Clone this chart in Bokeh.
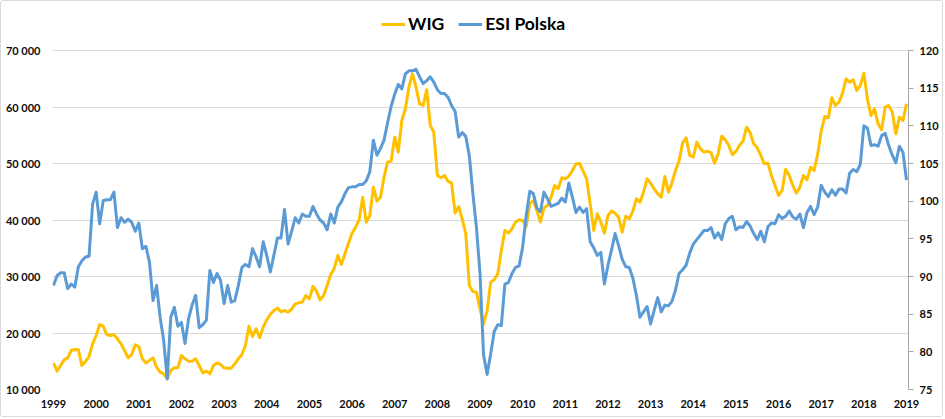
from bokeh.plotting import figure
from bokeh.models import Range1d, LinearAxis, FixedTicker, Legend, LegendItem
from bokeh.embed import file_html
from bokeh.resources import INLINE

# ---- data (monthly, Jan 1999 .. Jan 2019) ----
year_labels = [str(y) for y in range(1999, 2020)]

wig_values = [
    14660, 13250, 14250, 15250, 15600, 16900, 17080, 17020, 14250, 14960, 15840, 18080,  # 1999
    19560, 21500, 21200, 19680, 19560, 19680, 18970, 18080, 16900, 15600, 16200, 17900,  # 2000
    17610, 15430, 14660, 15130, 15600, 13950, 13070, 12770, 11890, 13360, 13840, 13840,  # 2001
    16020, 15430, 15020, 15020, 15430, 14250, 12950, 13250, 12770, 14250, 14720, 14430,  # 2002
    13840, 13780, 13780, 14540, 15430, 16200, 17790, 21210, 19380, 20740, 19150, 21030,  # 2003
    22300, 23280, 23980, 24400, 23750, 23980, 23690, 24220, 25160, 25340, 25460, 26640,  # 2004
    26050, 28230, 27410, 25870, 26640, 28410, 30360, 31420, 33720, 32130, 34010, 35900,  # 2005
    37670, 38730, 40030, 44040, 39620, 40800, 45810, 43330, 44040, 47580, 50240, 50420,  # 2006
    54660, 52010, 57610, 59680, 63510, 65870, 63510, 60560, 60270, 63040, 56730, 55550,  # 2007
    47880, 47470, 47880, 46870, 46520, 41210, 42390, 40210, 37560, 28410, 27350, 27230,  # 2008
    24280, 21630, 23980, 28990, 29410, 30470, 34600, 38140, 37670, 38440, 39620, 40030,  # 2009
    39910, 38850, 42860, 43450, 41680, 39620, 42160, 42570, 44040, 46110, 45520, 47470,  # 2010
    47290, 47760, 48760, 49940, 50000, 48650, 47290, 42860, 38140, 41090, 39620, 37670,  # 2011
    40800, 41570, 41210, 40500, 37850, 40680, 40210, 41570, 43750, 43160, 44930, 47290,  # 2012
    46520, 45520, 44630, 44040, 47700, 44930, 46520, 48760, 50420, 53600, 54550, 51420,  # 2013
    51120, 53780, 52600, 52000, 52200, 51900, 50060, 51700, 54840, 54200, 53190, 51540,  # 2014
    52130, 53190, 53960, 56430, 55490, 53480, 52780, 51420, 49940, 50060, 47880, 46110,  # 2015
    44340, 45220, 49000, 47880, 46110, 44750, 45810, 47880, 47110, 49350, 48760, 51600,  # 2016
    55730, 58320, 58090, 61630, 60270, 60860, 62450, 64990, 64400, 64810, 62920, 63810,  # 2017
    66000, 61450, 58500, 59680, 57020, 55960, 59970, 60270, 59090, 55250, 58200, 57610,  # 2018
    60570,                                                                                # 2019
]

esi_values = [
    88.8, 90.1, 90.5, 90.5, 88.4, 89.0, 88.6, 91.3, 92.1, 92.6, 92.7, 99.6,        # 1999
    101.2, 97.0, 100.1, 100.2, 100.2, 101.2, 96.5, 97.8, 97.2, 97.6, 97.2, 96.0,   # 2000
    97.1, 93.7, 94.0, 91.9, 86.8, 88.8, 84.6, 81.5, 76.4, 84.6, 85.9, 83.4,        # 2001
    83.9, 81.1, 84.4, 86.2, 87.5, 83.2, 83.6, 84.2, 90.8, 89.2, 90.4, 89.5,        # 2002
    86.4, 88.8, 86.6, 86.8, 88.8, 91.2, 91.6, 91.3, 93.7, 92.6, 91.3, 94.6,        # 2003
    92.8, 90.6, 92.8, 95.1, 95.1, 98.9, 94.3, 96.0, 97.8, 97.1, 98.3, 98.0,        # 2004
    98.0, 99.3, 98.3, 97.5, 97.1, 96.2, 98.3, 97.1, 99.2, 99.9, 101.0, 101.8,      # 2005
    101.9, 101.9, 102.2, 102.2, 102.7, 103.9, 108.1, 106.1, 107.0, 108.1, 110.4, 112.6,  # 2006
    114.2, 115.5, 114.9, 116.9, 117.3, 117.3, 117.5, 116.5, 115.6, 116.0, 116.5, 115.8,  # 2007
    114.8, 114.3, 114.3, 113.8, 112.7, 111.9, 108.5, 109.1, 108.6, 106.0, 101.0, 96.5,   # 2008
    90.4, 79.6, 77.0, 79.7, 82.7, 83.6, 83.5, 89.0, 89.2, 90.4, 91.2, 91.4,        # 2009
    93.9, 98.1, 101.3, 101.0, 99.1, 98.6, 101.2, 100.3, 99.3, 99.5, 99.7, 100.4,   # 2010
    99.9, 102.4, 100.5, 98.5, 99.2, 98.5, 99.0, 94.6, 93.8, 92.8, 93.2, 89.0,      # 2011
    91.5, 93.5, 95.7, 94.1, 92.3, 91.3, 91.2, 89.8, 87.5, 84.6, 85.3, 86.0,        # 2012
    83.7, 85.5, 87.2, 85.3, 86.2, 86.1, 86.7, 88.2, 90.4, 90.9, 91.5, 93.1,        # 2013
    94.3, 94.9, 95.5, 96.1, 96.1, 96.5, 95.1, 95.8, 94.9, 97.0, 97.7, 98.0,        # 2014
    96.2, 96.6, 96.5, 97.3, 96.7, 95.7, 94.9, 96.0, 94.6, 96.6, 97.1, 97.0,        # 2015
    98.2, 97.7, 98.0, 98.7, 97.9, 97.6, 98.3, 96.5, 98.5, 99.3, 98.2, 99.2,        # 2016
    102.1, 101.2, 100.6, 101.5, 100.8, 101.6, 101.6, 101.1, 103.7, 104.2, 103.9, 104.9,  # 2017
    110.0, 109.7, 107.4, 107.5, 107.3, 108.7, 109.0, 107.4, 106.1, 105.1, 107.3, 106.5,  # 2018
    102.8,                                                                           # 2019
]

wig_ticks = [10000, 20000, 30000, 40000, 50000, 60000, 70000]
wig_tick_labels = ["10 000", "20 000", "30 000", "40 000", "50 000", "60 000", "70 000"]
esi_ticks = [75, 80, 85, 90, 95, 100, 105, 110, 115, 120]

months = list(range(len(wig_values)))
year_ticks = [12 * i for i in range(len(year_labels))]

# ---- layout ----
FONT = "Lato"
TXT = "#0d0d0d"
W, H = 943, 417
PLOT_PX = 339      # pixel height between lowest and highest gridline
TOP_PAD_PX = 48    # room above the top gridline (legend area) inside the frame

wig_lo, wig_hi = wig_ticks[0], wig_ticks[-1]
esi_lo, esi_hi = esi_ticks[0], esi_ticks[-1]
wig_top = wig_hi + (wig_hi - wig_lo) * TOP_PAD_PX / PLOT_PX
esi_top = esi_hi + (esi_hi - esi_lo) * TOP_PAD_PX / PLOT_PX

p = figure(width=W, height=H, output_backend="svg", toolbar_location=None,
           x_range=Range1d(-0.28, 240.56), y_range=Range1d(wig_lo, wig_top),
           min_border_left=51, min_border_right=36, min_border_top=1, min_border_bottom=29)
p.outline_line_color = None
p.background_fill_color = "white"
p.border_fill_color = "white"
p.styles = {"border": "1px solid #d9d9d9", "border-radius": "3px"}

# x axis
p.xaxis.ticker = FixedTicker(ticks=year_ticks)
p.xaxis.major_label_overrides = {t: lab for t, lab in zip(year_ticks, year_labels)}
p.xaxis.axis_line_color = None
p.xaxis.major_tick_line_color = None
p.xaxis.minor_tick_line_color = None
p.xaxis.major_tick_out = 0
p.xaxis.major_label_standoff = 10
p.xgrid.grid_line_color = None

# left axis
p.yaxis.ticker = FixedTicker(ticks=wig_ticks)
p.yaxis.major_label_overrides = {t: lab for t, lab in zip(wig_ticks, wig_tick_labels)}
p.yaxis.axis_line_color = None
p.yaxis.major_tick_line_color = None
p.yaxis.minor_tick_line_color = None
p.yaxis.major_tick_out = 0
p.yaxis.major_label_standoff = 12
p.ygrid.ticker = FixedTicker(ticks=wig_ticks)
p.ygrid.grid_line_color = "#d9d9d9"
p.ygrid.grid_line_width = 1

# right axis
p.extra_y_ranges = {"esi": Range1d(esi_lo, esi_top)}
rax = LinearAxis(y_range_name="esi", ticker=FixedTicker(ticks=esi_ticks), bounds=(esi_lo, esi_hi))
rax.axis_line_color = "#a6a6a6"
rax.major_tick_line_color = "#a6a6a6"
rax.major_tick_out = 5
rax.major_tick_in = 0
rax.minor_tick_line_color = None
rax.major_label_standoff = 6
p.add_layout(rax, "right")

for ax in [p.xaxis[0], p.yaxis[0], rax]:
    ax.major_label_text_font = FONT
    ax.major_label_text_font_style = "bold"
    ax.major_label_text_font_size = "11px"
    ax.major_label_text_color = TXT

wig_r = p.line(months, wig_values, line_color="#FFC000", line_width=3, line_join="round")
esi_r = p.line(months, esi_values, y_range_name="esi", line_color="#5B9BD5", line_width=3, line_join="round")

legend = Legend(items=[LegendItem(label="WIG", renderers=[wig_r]),
                       LegendItem(label="ESI Polska", renderers=[esi_r])],
                orientation="horizontal", location=(329, 355))
legend.label_text_font = FONT
legend.label_text_font_style = "bold"
legend.label_text_font_size = "17.5px"
legend.label_text_color = "#000000"
legend.glyph_width = 24
legend.label_standoff = 3
legend.spacing = 14
legend.padding = 2
legend.margin = 0
legend.border_line_color = None
legend.background_fill_alpha = 0
p.add_layout(legend, "center")

open("out.html", "w").write(file_html(p, INLINE))
